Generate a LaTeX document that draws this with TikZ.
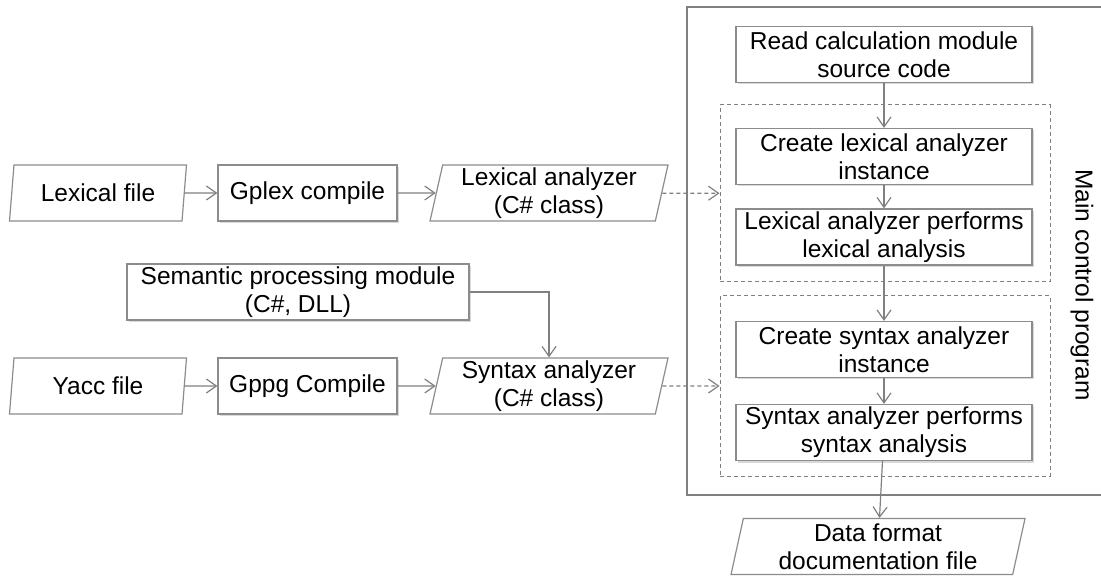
\documentclass[tikz,border=0pt]{standalone}
\usepackage{fontspec}
\setmainfont{Liberation Sans}
\usetikzlibrary{shapes.geometric,arrows.meta,shadows}
\definecolor{linegray}{RGB}{128,128,128}
\definecolor{boxgray}{RGB}{140,140,140}
\tikzset{
proc/.style={draw=boxgray,fill=white,line width=0.6pt,minimum width=#1,minimum height=28pt,inner sep=0pt,align=center,drop shadow={shadow xshift=0.8pt,shadow yshift=-1pt,opacity=0.3}},
io/.style={trapezium,trapezium left angle=76,trapezium right angle=104,trapezium stretches body,draw=boxgray,fill=white,line width=0.6pt,minimum width=#1,minimum height=28pt,inner sep=0pt,align=center},
group/.style={draw=linegray,line width=0.5pt,dash pattern=on 2pt off 1.5pt},
arr/.style={draw=linegray,line width=0.6pt,-{Straight Barb[length=5pt,width=7pt]}},
darr/.style={arr,dash pattern=on 2pt off 1.5pt}
}
\begin{document}
\begin{tikzpicture}[x=0.5pt,y=-0.5pt,font=\fontsize{12.25}{14}\selectfont]
\useasboundingbox (0,0) rectangle (1101,576);
\node[draw=linegray,line width=0.6pt,minimum width=214pt,minimum height=244pt] (mainbox) at (901,251) {};
\node[rotate=-90] (mainlabel) at (1082,285) {Main control program};
\node[group,minimum width=165pt,minimum height=88.5pt] (lexgroup) at (885,193.5) {};
\node[group,minimum width=165pt,minimum height=90pt] (syngroup) at (885,386) {};
\node[io=88.5pt] (lexfile) at (98,193) {Lexical file};
\node[proc=89.5pt] (gplex) at (307.5,193) {Gplex compile};
\node[io=119pt] (lexan) at (549,193) {Lexical analyzer\\(C\# class)};
\node[proc=171pt] (semantic) at (298,292) {Semantic processing module\\(C\#, DLL)};
\node[io=88.5pt] (yaccfile) at (98,386) {Yacc file};
\node[proc=89.5pt] (gppg) at (307.5,386) {Gppg Compile};
\node[io=119pt] (synan) at (549,386) {Syntax analyzer\\(C\# class)};
\node[proc=148pt] (read) at (884,54.5) {Read calculation module\\source code};
\node[proc=148pt] (createlex) at (884,156.5) {Create lexical analyzer\\instance};
\node[proc=148pt] (lexperf) at (884,237) {Lexical analyzer performs\\lexical analysis};
\node[proc=148pt] (createsyn) at (884,349.5) {Create syntax analyzer\\instance};
\node[proc=148pt] (synperf) at (884,432.5) {Syntax analyzer performs\\syntax analysis};
\node[io=147pt,trapezium left angle=75,trapezium right angle=105] (datafile) at (878,546.5) {Data format\\documentation file};
\draw[arr] (lexfile) -- (gplex);
\draw[arr] (gplex) -- (lexan);
\draw[darr] (lexan) -- (lexgroup);
\draw[arr] (semantic.east) -| (synan.north);
\draw[arr] (yaccfile) -- (gppg);
\draw[arr] (gppg) -- (synan);
\draw[darr] (synan) -- (syngroup);
\draw[arr] (read) -- (createlex);
\draw[arr] (createlex) -- (lexperf);
\draw[arr] (lexperf) -- (createsyn);
\draw[arr] (createsyn) -- (synperf);
\draw[arr] (synperf) -- (datafile);
\end{tikzpicture}
\end{document}
